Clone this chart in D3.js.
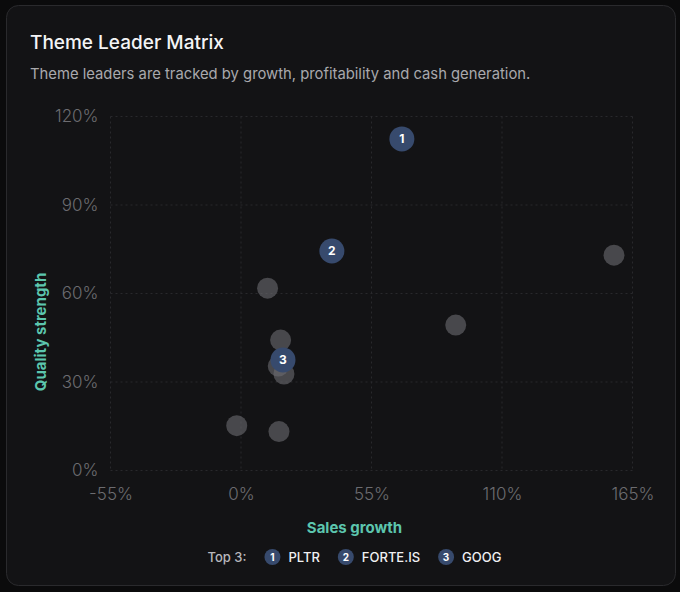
<!DOCTYPE html>
<html>
<head>
<meta charset="utf-8">
<script src="https://cdn.jsdelivr.net/npm/d3@7"></script>
<style>
  html, body { margin: 0; padding: 0; background: #0b0b0c; }
  body { width: 680px; height: 592px; overflow: hidden; font-family: Inter, "Noto Sans", sans-serif; }
</style>
</head>
<body>
<div id="container"></div>
<script>
// chart data
const tickers = ["PLTR", "FORTE.IS", "GOOG", "", "", "", "", "", "", "", ""];
const salesGrowth = [67.8, 38.3, 17.7, 157.2, 11.2, 90.5, 16.7, 15.7, 18.1, -1.8, 16.0];
const qualityStrength = [112.4, 74.4, 37.5, 73.0, 61.8, 49.3, 44.2, 35.4, 32.7, 15.2, 13.2];
const ranks = [1, 2, 3, 0, 0, 0, 0, 0, 0, 0, 0];
const xTicks = [-55, 0, 55, 110, 165];
const yTicks = [0, 30, 60, 90, 120];

const w = 680;
const h = 592;

const points = tickers.map((t, i) => ({
    ticker: t,
    x: salesGrowth[i],
    y: qualityStrength[i],
    rank: ranks[i]
}));

const xScale = d3.scaleLinear()
      .domain([-55, 165])
      .range([110.5, 632.5]);

const yScale = d3.scaleLinear()
      .domain([0, 120])
      .range([470.5, 116.5]);

const svg = d3.select("#container")
    .append("svg")
    .attr("width", w)
    .attr("height", h);

// card
svg.append("rect")
    .attr("x", 6.5)
    .attr("y", 5.5)
    .attr("width", 669)
    .attr("height", 580)
    .attr("rx", 12)
    .attr("fill", "#131315")
    .attr("stroke", "#2a2a2d");

svg.append("text")
    .attr("x", 30)
    .attr("y", 49)
    .attr("fill", "#f4f4f5")
    .attr("font-size", 19)
    .attr("font-weight", 500)
    .text("Theme Leader Matrix");

svg.append("text")
    .attr("x", 30)
    .attr("y", 79)
    .attr("fill", "#a9a9ad")
    .attr("font-size", 14.8)
    .text("Theme leaders are tracked by growth, profitability and cash generation.");

// grid
const grid = svg.append("g").attr("class", "grid");
grid.selectAll("line.v")
    .data(xTicks)
    .enter()
    .append("line")
    .attr("x1", d => xScale(d))
    .attr("x2", d => xScale(d))
    .attr("y1", yScale(120))
    .attr("y2", yScale(0))
    .attr("stroke", "#29292c")
    .attr("stroke-dasharray", "2 3");
grid.selectAll("line.h")
    .data(yTicks)
    .enter()
    .append("line")
    .attr("x1", xScale(-55))
    .attr("x2", xScale(165))
    .attr("y1", d => yScale(d))
    .attr("y2", d => yScale(d))
    .attr("stroke", "#29292c")
    .attr("stroke-dasharray", "2 3");

// axes
const xAxis = d3.axisBottom(xScale)
      .tickValues(xTicks)
      .tickSize(0)
      .tickPadding(17)
      .tickFormat(d => d + "%");
const yAxis = d3.axisLeft(yScale)
      .tickValues(yTicks)
      .tickSize(0)
      .tickPadding(12)
      .tickFormat(d => d + "%");

const gx = svg.append("g")
    .attr("transform", "translate(0," + yScale(0) + ")")
    .call(xAxis);
const gy = svg.append("g")
    .attr("transform", "translate(" + xScale(-55) + ",0)")
    .call(yAxis);

[gx, gy].forEach(g => {
    g.select(".domain").remove();
    g.selectAll("text")
        .attr("fill", "#6c6c70")
        .attr("font-size", 17)
        .attr("font-weight", 300)
        .attr("font-family", "Inter, sans-serif");
});

// axis titles
svg.append("text")
    .attr("x", 354.5)
    .attr("y", 533)
    .attr("text-anchor", "middle")
    .attr("fill", "#5cc6ae")
    .attr("font-size", 15)
    .attr("font-weight", 700)
    .text("Sales growth");

svg.append("text")
    .attr("transform", "translate(46,332) rotate(-90)")
    .attr("text-anchor", "middle")
    .attr("fill", "#5cc6ae")
    .attr("font-size", 15)
    .attr("font-weight", 700)
    .text("Quality strength");

// points: others first, top 3 on top
const others = points.filter(d => d.rank === 0);
const leaders = points.filter(d => d.rank > 0).sort((a, b) => b.rank - a.rank);

svg.append("g")
    .selectAll("circle")
    .data(others)
    .enter()
    .append("circle")
    .attr("cx", d => xScale(d.x))
    .attr("cy", d => yScale(d.y))
    .attr("r", 10.5)
    .attr("fill", "#6c6c72")
    .attr("fill-opacity", 0.6);

const lead = svg.append("g")
    .selectAll("g")
    .data(leaders)
    .enter()
    .append("g")
    .attr("transform", d => "translate(" + xScale(d.x) + "," + yScale(d.y) + ")");
lead.append("circle")
    .attr("r", 12.5)
    .attr("fill", "#374a6d");
lead.append("text")
    .attr("text-anchor", "middle")
    .attr("dy", "0.36em")
    .attr("fill", "#ffffff")
    .attr("font-size", 12)
    .attr("font-weight", 700)
    .text(d => d.rank);

// legend
const legend = svg.append("g").attr("transform", "translate(0,557)");
let cursor = 0;
const topLabel = legend.append("text")
    .attr("x", cursor)
    .attr("dy", "0.35em")
    .attr("fill", "#b8b8bc")
    .attr("font-size", 13)
    .attr("font-weight", 500)
    .text("Top 3:");
cursor += topLabel.node().getComputedTextLength() + 18;

points.filter(d => d.rank > 0).sort((a, b) => a.rank - b.rank).forEach(d => {
    legend.append("circle")
        .attr("cx", cursor + 8)
        .attr("r", 8)
        .attr("fill", "#374a6d");
    legend.append("text")
        .attr("x", cursor + 8)
        .attr("dy", "0.35em")
        .attr("text-anchor", "middle")
        .attr("fill", "#ffffff")
        .attr("font-size", 10)
        .attr("font-weight", 700)
        .text(d.rank);
    const lbl = legend.append("text")
        .attr("x", cursor + 24)
        .attr("dy", "0.35em")
        .attr("fill", "#f0f0f2")
        .attr("font-size", 13)
        .attr("font-weight", 500)
        .text(d.ticker);
    cursor += 24 + lbl.node().getComputedTextLength() + 18;
});
cursor -= 18;
legend.attr("transform", "translate(" + (354.5 - cursor / 2) + ",557)");
</script>
</body>
</html>
